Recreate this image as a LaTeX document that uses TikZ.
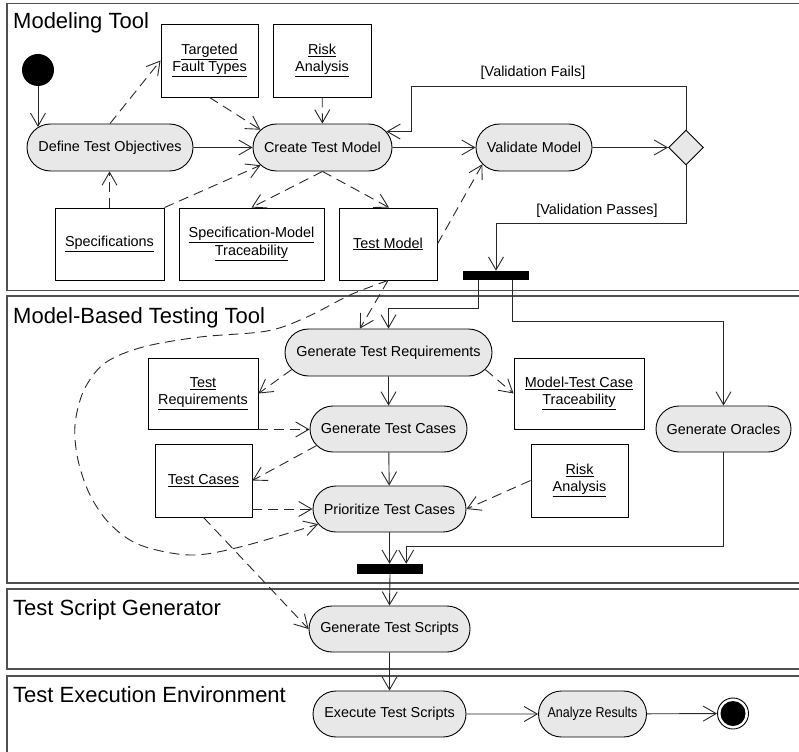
\documentclass[tikz,border=0pt]{standalone}
\usepackage{fontspec}
\setmainfont{Liberation Sans}
\usetikzlibrary{arrows.meta,shapes.geometric,shapes.misc,calc}

\definecolor{actfill}{RGB}{232,232,232}
\definecolor{laneline}{RGB}{80,80,80}
\definecolor{wire}{RGB}{40,40,40}

\begin{document}
\begin{tikzpicture}[x=1pt,y=-1pt,
  every node/.style={font=\fontsize{14.4}{17.5}\selectfont, inner sep=0pt},
  action/.style={rounded rectangle, draw=black, line width=0.9pt, fill=actfill, minimum height=47pt},
  objbox/.style={rectangle, draw=black, line width=0.9pt, fill=white, align=center},
  syncbar/.style={rectangle, fill=black, minimum width=66pt, minimum height=9pt},
  lane/.style={draw=laneline, line width=1.8pt},
  lanetitle/.style={anchor=base west, font=\fontsize{22}{25}\selectfont},
  flow/.style={draw=wire, line width=0.9pt, -{Straight Barb[length=13pt,width=15pt]}},
  dep/.style={flow, dash pattern=on 10pt off 6pt},
  guard/.style={font=\fontsize{14.4}{17.5}\selectfont}
]
\useasboundingbox (0,0) rectangle (799,751);

% swimlanes
\begin{scope}
  \clip (0,0) rectangle (799,751);
  \draw[lane] (7,3.5) rectangle (830,290.5);
  \draw[lane] (7,296) rectangle (830,583);
  \draw[lane] (7,589) rectangle (830,669);
  \draw[lane] (7,676) rectangle (830,790);
\end{scope}
\node[lanetitle] (l1) at (13,29) {Modeling Tool};
\node[lanetitle] (l2) at (13,323) {Model-Based Testing Tool};
\node[lanetitle] (l3) at (13,615) {Test Script Generator};
\node[lanetitle] (l4) at (13,702) {Test Execution Environment};

% modeling tool
\node[circle, fill=black, minimum size=32pt] (start) at (38,70) {};
\node[action, minimum width=166pt] (dto) at (110,147.5) {Define Test Objectives};
\node[action, minimum width=139pt] (ctm) at (322.5,147.5) {Create Test Model};
\node[action, minimum width=116pt] (vm) at (534,147.5) {Validate Model};
\node[diamond, draw=black, line width=0.9pt, fill=actfill, minimum size=35pt, aspect=1] (dec) at (686,147.5) {};
\node[objbox, minimum width=97pt, minimum height=73pt] (tft) at (209.5,60.5) {\underline{Targeted}\\\underline{Fault Types}};
\node[objbox, minimum width=98pt, minimum height=73pt] (ra1) at (322,60.5) {\underline{Risk}\\\underline{Analysis}};
\node[objbox, minimum width=109pt, minimum height=72pt] (spec) at (109.5,244) {\underline{Specifications}};
\node[objbox, minimum width=145pt, minimum height=72pt] (smt) at (251.5,244) {\underline{Specification-Model}\\\underline{Traceability}};
\node[objbox, minimum width=98pt, minimum height=72pt] (tm) at (388,244) {\underline{Test Model}};
\node[syncbar] (bar1) at (496,275.5) {};

% model-based testing tool
\node[action, minimum width=207pt] (gtr) at (388.5,352.5) {Generate Test Requirements};
\node[action, minimum width=157pt, minimum height=46pt] (gtc) at (388.5,429) {Generate Test Cases};
\node[action, minimum width=153pt, minimum height=46pt] (ptc) at (389.5,509) {Prioritize Test Cases};
\node[action, minimum width=135pt, minimum height=46pt] (gor) at (723.5,429) {Generate Oracles};
\node[objbox, minimum width=110pt, minimum height=71pt] (treq) at (203,393.5) {\underline{Test}\\\underline{Requirements}};
\node[objbox, minimum width=130pt, minimum height=71pt] (mtct) at (579,393.5) {\underline{Model-Test Case}\\\underline{Traceability}};
\node[objbox, minimum width=97pt, minimum height=73pt] (tc) at (203.5,480.5) {\underline{Test Cases}};
\node[objbox, minimum width=97pt, minimum height=73pt] (ra2) at (579.5,480.5) {\underline{Risk}\\\underline{Analysis}};
\node[syncbar, minimum height=10pt] (bar2) at (390,569) {};

% script generation and execution
\node[action, minimum width=161pt, minimum height=46pt] (gts) at (389.5,629) {Generate Test Scripts};
\node[action, minimum width=153pt, minimum height=46pt] (ets) at (389.5,714) {Execute Test Scripts};
\node[action, minimum width=108pt, minimum height=46pt] (ar) at (592.5,714) {\scalebox{0.87}[1]{Analyze Results}};
\node[circle, draw=black, line width=0.9pt, fill=white, minimum size=31pt] (fin) at (733,713.5) {};
\node[circle, fill=black, minimum size=25pt] (finc) at (fin) {};

% control flow
\draw[flow] (start.south) -- (start.south |- dto.164.6);
\draw[flow] (dto) -- (ctm);
\draw[flow] (ctm) -- (vm);
\draw[flow] (vm) -- (dec);
\coordinate (vf) at (411,86);
\draw[flow] (dec.north) |- (vf) |- (ctm.14);
\node[guard] (lfail) at (533,73) {[Validation Fails]};
\draw[flow] (dec.south) |- ($(bar1.north)+(0,-47)$) -- (bar1.north);
\node[guard] (lpass) at (597,211) {[Validation Passes]};
\draw[flow] ($(bar1.south west)+(16,0)$) |- ($(gtr.north)+(0,-20)$) -- (gtr.north);
\draw[flow] ($(bar1.south east)+(-17,0)$) |- ($(gor.north)+(0,-84)$) -- (gor.north);
\draw[flow] (gtr) -- (gtc);
\draw[flow] (gtc) -- (ptc);
\draw[flow] (ptc.south) -- (ptc.south |- bar2.north);
\draw[flow] (gor.south) -- ++(0,94) -| ($(bar2.north east)+(-17,0)$);
\draw[flow] (bar2.south) -- (gts.north);
\draw[flow] (gts) -- (ets);
\draw[flow] (ets) -- (ar);
\draw[flow] (ar) -- (fin);

% object flows
\draw[dep] (dto.north) -- (tft.west);
\draw[dep] (tft.south) -- (ctm.164);
\draw[dep] (ra1) -- (ctm);
\draw[dep] (spec.north) -- (spec.north |- dto.south);
\draw[dep] (spec.north east) -- (ctm.196);
\draw[dep] (ctm.south) -- (smt.north);
\draw[dep] (ctm.south) -- ($(tm.north)+(1,0)$);
\draw[dep] (tm.east) -- (vm.198.6);
\draw[dep] (tm.south) -- (gtr.140);
\draw[dep] plot[smooth, tension=0.55] coordinates {(tm.south) (350,295) (307,317) (267,331) (200,337) (143,347) (105,363) (84,390) (75,425) (78,460) (90,495) (110,524) (140,545) (190,555) (240,547) (ptc.192)};
\draw[dep] (gtr.190) -- (treq.east);
\draw[dep] (gtr.350) -- (mtct.west);
\draw[dep] (treq.south east) -- (treq.south east -| gtc.west);
\draw[dep] (gtc.193) -- (tc.east);
\draw[dep] (tc.east |- ptc.west) -- (ptc.west);
\draw[dep] (ra2.west) -- (ptc.east);
\draw[dep] (tc.south) -- (gts.west);
\end{tikzpicture}
\end{document}
